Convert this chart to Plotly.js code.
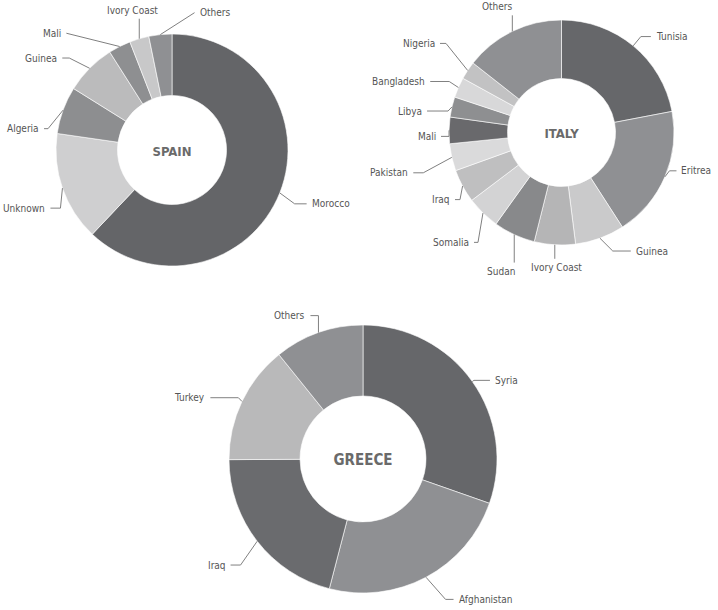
<!DOCTYPE html>
<html><head><meta charset="utf-8">
<script src="https://cdn.plot.ly/plotly-3.0.1.min.js"></script>
<style>html,body{margin:0;padding:0;background:#fff} svg text{font-stretch:condensed !important}</style>
</head><body><div id="chart" style="width:718px;height:610px"></div>
<script>
// ---- data ----
const spainLabels = ['Morocco','Unknown','Algeria','Guinea','Mali','Ivory Coast','Others'];
const spainValues = [62.0,15.2,6.6,7.1,3.1,2.7,3.2];
const italyLabels = ['Tunisia','Eritrea','Guinea','Ivory Coast','Sudan','Somalia','Iraq','Pakistan','Mali','Libya','Bangladesh','Nigeria','Others'];
const italyValues = [22.0,18.9,7.1,5.9,6.0,4.8,4.8,3.9,3.8,2.9,2.9,2.6,14.4];
const greeceLabels = ['Syria','Afghanistan','Iraq','Turkey','Others'];
const greeceValues = [30.4,23.7,20.9,14.3,10.8];

// ---- styles ----
const spainColors = ['#646568','#cfcfd0','#8d8e90','#bbbbbc','#8e8f91','#c8c8c9','#8f9093'];
const italyColors = ['#66676a','#8f9093','#cacacb','#b5b5b6','#88898b','#d3d3d4','#bfbfc0','#dadadb','#69696c','#8e8f91','#d8d8d9','#c2c2c3','#8f9093'];
const greeceColors = ['#66676a','#8f9093','#6a6b6e','#b9b9ba','#8f9093'];

const W = 718, H = 610;
const FONT = 'DejaVu Sans Condensed, DejaVu Sans, Liberation Sans, sans-serif';
// label-leader hints (pixels): ext = radial length, tail = horizontal length, dx/dy = elbow nudge
const charts = [
  {title:'SPAIN', labels:spainLabels, values:spainValues, colors:spainColors,
   cx:172, cy:150, r:116, hole:0.47, tsize:13, ext:16, tail:9,
   hint:{'Morocco':{dy:5,tail:12}, 'Unknown':{ext:0,dx:-2,dy:20,tail:10},
         'Algeria':{dx:0,dy:24,tail:4}, 'Guinea':{dx:-9,dy:1,tail:7},
         'Mali':{dx:-46,dy:1,tail:0}, 'Ivory Coast':{side:'top',ext:20,dx:-7},
         'Others':{ext:18,dx:36,dy:-4,tail:0,side:'right'}}},
  {title:'ITALY', labels:italyLabels, values:italyValues, colors:italyColors,
   cx:561.5, cy:132.5, r:112.5, hole:0.48, tsize:13, ext:20, tail:10,
   hint:{'Tunisia':{ext:12}, 'Eritrea':{ext:5,dy:-8,tail:7},
         'Guinea':{dx:6,dy:-6,tail:18}, 'Ivory Coast':{side:'bottom',ext:14,dx:2},
         'Sudan':{side:'bottom',ext:28,dx:-13}, 'Somalia':{dx:9,dy:15,tail:4},
         'Iraq':{dx:15,dy:4,tail:5}, 'Pakistan':{dx:-9,dy:11,tail:10},
         'Mali':{ext:0,dy:6,tail:8}, 'Libya':{ext:4,dy:5,tail:21},
         'Bangladesh':{ext:10,dy:-2,tail:19}, 'Nigeria':{dx:-5,dy:-16,tail:6},
         'Others':{side:'top',ext:16,dx:-15}}},
  {title:'GREECE', labels:greeceLabels, values:greeceValues, colors:greeceColors,
   cx:363, cy:459, r:134, hole:0.47, tsize:15, ext:16, tail:10,
   hint:{'Syria':{ext:2,tail:16}, 'Afghanistan':{dx:12,dy:8,tail:8},
         'Iraq':{dx:-4,dy:14,tail:10}, 'Turkey':{ext:4,dy:-2,tail:28},
         'Others':{ext:0,dy:-17,tail:8}}}
];

const px = x => x / W, py = y => 1 - y / H;
const traces = [], shapes = [], annotations = [];
const GAP = 3;

charts.forEach(c => {
  traces.push({
    type:'pie', labels:c.labels, values:c.values, sort:false, direction:'clockwise', rotation:0,
    hole:c.hole, textinfo:'none', hoverinfo:'none', showlegend:false,
    marker:{colors:c.colors, line:{color:'#ffffff', width:0.6}},
    domain:{x:[px(c.cx-c.r), px(c.cx+c.r)], y:[py(c.cy+c.r), py(c.cy-c.r)]},
    title:{text:'<b>'+c.title+'</b>', position:'middle center', font:{family:FONT, size:c.tsize, color:'#6a6a6a'}}
  });
  const total = c.values.reduce((a,b)=>a+b,0);
  let cum = 0;
  c.values.forEach((v,i) => {
    const h = c.hint[c.labels[i]] || {};
    const mid = (cum + v/2) / total; cum += v;
    const th = 2*Math.PI*mid;
    const ux = Math.sin(th), uy = -Math.cos(th);
    const ext = h.ext !== undefined ? h.ext : c.ext;
    const tail = h.tail !== undefined ? h.tail : c.tail;
    const ex = c.cx + c.r*ux, ey = c.cy + c.r*uy;
    const side = h.side || (ux >= 0 ? 'right' : 'left');
    let path, tx, ty, xa = 'center', ya = 'middle';
    if (side === 'top' || side === 'bottom') {
      const sgn = side === 'top' ? -1 : 1;
      const by = ey + sgn*ext;
      path = `M${px(ex)},${py(ey)} L${px(ex)},${py(by)}`;
      tx = ex + (h.dx || 0); ty = by + sgn*1; ya = side === 'top' ? 'bottom' : 'top';
    } else {
      const sgn = side === 'right' ? 1 : -1;
      const bx = c.cx + (c.r+ext)*ux + (h.dx || 0);
      const by = c.cy + (c.r+ext)*uy + (h.dy || 0);
      const endx = bx + sgn*tail;
      path = `M${px(ex)},${py(ey)} L${px(bx)},${py(by)} L${px(endx)},${py(by)}`;
      tx = endx + sgn*GAP; ty = by; xa = side === 'right' ? 'left' : 'right';
    }
    shapes.push({type:'path', xref:'paper', yref:'paper', path, line:{color:'#808080', width:1}});
    annotations.push({xref:'paper', yref:'paper', x:px(tx), y:py(ty), xanchor:xa, yanchor:ya,
      text:c.labels[i], showarrow:false, font:{family:FONT, size:10, color:'#555555'}});
  });
});

Plotly.newPlot('chart', traces, {
  width:W, height:H, margin:{l:0,r:0,t:0,b:0}, paper_bgcolor:'#ffffff',
  shapes, annotations, showlegend:false
}, {displayModeBar:false, staticPlot:true});
</script></body></html>
